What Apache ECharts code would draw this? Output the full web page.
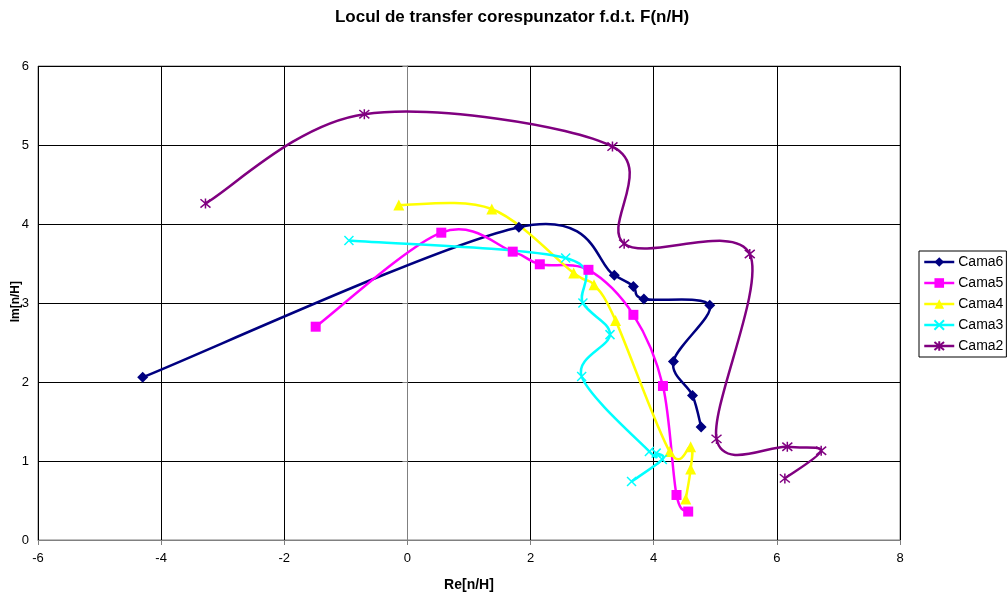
<!DOCTYPE html>
<html>
<head>
<meta charset="utf-8">
<script src="https://cdn.jsdelivr.net/npm/echarts@6/dist/echarts.min.js"></script>
<style>
  html, body { margin: 0; padding: 0; background: #ffffff; }
  #chart { width: 1008px; height: 598px; }
</style>
</head>
<body>
<div id="chart"></div>
<script>
// Transfer locus F(n/H) for each layer: real part (Re) and imaginary part (Im)
var seriesNames = ['Cama6', 'Cama5', 'Cama4', 'Cama3', 'Cama2'];

var cama6Re = [-4.30, 1.81, 3.36, 3.67, 3.84, 4.91, 4.32, 4.63, 4.77];
var cama6Im = [2.06, 3.96, 3.35, 3.21, 3.05, 2.97, 2.26, 1.83, 1.43];

var cama5Re = [-1.49, 0.55, 1.71, 2.15, 2.94, 3.67, 4.15, 4.37, 4.56];
var cama5Im = [2.70, 3.89, 3.65, 3.49, 3.42, 2.85, 1.95, 0.57, 0.36];

var cama4Re = [-0.14, 1.37, 2.70, 3.03, 3.38, 4.26, 4.60, 4.60, 4.52];
var cama4Im = [4.24, 4.19, 3.38, 3.23, 2.78, 1.12, 1.18, 0.90, 0.52];

var cama3Re = [-0.95, 2.57, 2.85, 3.29, 2.83, 3.93, 4.04, 4.14, 3.64];
var cama3Im = [3.79, 3.57, 3.00, 2.60, 2.07, 1.12, 1.10, 1.02, 0.74];

var cama2Re = [-3.28, -0.70, 3.33, 3.52, 5.56, 5.02, 6.17, 6.72, 6.13];
var cama2Im = [4.26, 5.39, 4.98, 3.75, 3.62, 1.28, 1.18, 1.13, 0.78];

var xTicks = [-6, -4, -2, 0, 2, 4, 6, 8];
var yTicks = [0, 1, 2, 3, 4, 5, 6];

var seriesColors = ['#000080', '#FF00FF', '#FFFF00', '#00FFFF', '#800080'];

var markerX = 'path://M0,0L10,10M10,0L0,10';
var markerStar = 'path://M0,0L10,10M10,0L0,10M5,-1L5,11';

function pairs(re, im) {
  return re.map(function (v, i) { return [v, im[i]]; });
}

var seriesData = [
  pairs(cama6Re, cama6Im),
  pairs(cama5Re, cama5Im),
  pairs(cama4Re, cama4Im),
  pairs(cama3Re, cama3Im),
  pairs(cama2Re, cama2Im)
];

var markers = [
  { symbol: 'diamond', size: 11, stroke: false },
  { symbol: 'rect', size: 10, stroke: false },
  { symbol: 'triangle', size: 11, stroke: false },
  { symbol: markerX, size: 9, stroke: true },
  { symbol: markerStar, size: 10, stroke: true }
];

var LINE_W = 2.5;
var font = 'Liberation Sans, Arial, sans-serif';

// Markers (and legend entries) for each layer
var markerSeries = seriesNames.map(function (name, i) {
  var m = markers[i];
  var c = seriesColors[i];
  return {
    name: name,
    type: 'line',
    data: seriesData[i],
    symbol: m.symbol,
    symbolSize: m.size,
    showSymbol: true,
    lineStyle: { color: c, width: LINE_W, opacity: 0 },
    itemStyle: m.stroke
      ? { color: c, borderColor: c, borderWidth: 1.5 }
      : { color: c, borderColor: c, borderWidth: 0 },
    emphasis: { disabled: true },
    silent: true,
    z: 20 + i
  };
});

// Smoothed connecting curves: cubic Bezier segments with Catmull-Rom tangents
var curveSeries = seriesNames.map(function (name, s) {
  var pts = seriesData[s];
  var c = seriesColors[s];
  return {
    name: name,
    type: 'custom',
    coordinateSystem: 'cartesian2d',
    data: pts,
    encode: { x: 0, y: 1 },
    silent: true,
    z: 10 + s,
    renderItem: function (params, api) {
      var i = params.dataIndex;
      var n = pts.length;
      if (i >= n - 1) return null;
      function at(k) {
        k = Math.max(0, Math.min(n - 1, k));
        return api.coord(pts[k]);
      }
      var p0 = at(i - 1), p1 = at(i), p2 = at(i + 1), p3 = at(i + 2);
      return {
        type: 'bezierCurve',
        shape: {
          x1: p1[0], y1: p1[1],
          x2: p2[0], y2: p2[1],
          cpx1: p1[0] + (p2[0] - p0[0]) / 6,
          cpy1: p1[1] + (p2[1] - p0[1]) / 6,
          cpx2: p2[0] - (p3[0] - p1[0]) / 6,
          cpy2: p2[1] - (p3[1] - p1[1]) / 6
        },
        style: { stroke: c, lineWidth: LINE_W, fill: 'none', lineJoin: 'round' }
      };
    }
  };
});

var chart = echarts.init(document.getElementById('chart'), null, { renderer: 'canvas' });

chart.setOption({
  animation: false,
  backgroundColor: '#ffffff',
  textStyle: { fontFamily: font },
  title: {
    text: 'Locul de transfer corespunzator f.d.t. F(n/H)',
    left: 507,
    textAlign: 'center',
    top: 4,
    textStyle: { fontFamily: font, fontSize: 17, fontWeight: 'bold', color: '#000000' }
  },
  grid: { left: 38, right: 108, top: 66, bottom: 58, show: true, borderColor: '#808080', borderWidth: 1 },
  legend: {
    orient: 'vertical',
    left: 919,
    top: 251,
    data: seriesNames.map(function (name, i) {
      return { name: name, lineStyle: { color: seriesColors[i], width: LINE_W, opacity: 1 } };
    }),
    itemWidth: 30,
    itemHeight: 12,
    itemGap: 7,
    padding: [4, 3, 4, 4],
    borderColor: '#000000',
    borderWidth: 1,
    borderRadius: 0,
    backgroundColor: '#ffffff',
    selectedMode: false,
    textStyle: { fontFamily: font, fontSize: 14, color: '#000000', padding: [0, 0, 0, -1] }
  },
  xAxis: {
    type: 'value',
    min: xTicks[0],
    max: xTicks[xTicks.length - 1],
    interval: 2,
    name: 'Re[n/H]',
    nameLocation: 'middle',
    nameGap: 38,
    nameTextStyle: { fontFamily: font, fontSize: 14, fontWeight: 'bold', color: '#000000' },
    axisLine: { show: true, onZero: false, lineStyle: { color: '#808080', width: 1 } },
    axisTick: { show: true, length: 5, lineStyle: { color: '#808080' } },
    axisLabel: { fontFamily: font, fontSize: 13, color: '#000000', margin: 12 },
    splitLine: { show: true, lineStyle: { color: '#000000', width: 1 } }
  },
  yAxis: {
    type: 'value',
    min: yTicks[0],
    max: yTicks[yTicks.length - 1],
    interval: 1,
    axisLine: { show: true, onZero: true, lineStyle: { color: '#808080', width: 1 } },
    axisTick: { show: true, length: 5, lineStyle: { color: '#808080' } },
    axisLabel: { fontFamily: font, fontSize: 13, color: '#000000', margin: 9 },
    splitLine: { show: true, lineStyle: { color: '#000000', width: 1 } }
  },
  graphic: [
    {
      type: 'text',
      left: 10,
      top: 281,
      rotation: Math.PI / 2,
      style: {
        text: 'Im[n/H]',
        fill: '#000000',
        font: 'bold 12px ' + font
      }
    }
  ],
  series: markerSeries.concat(curveSeries)
});
</script>
</body>
</html>
